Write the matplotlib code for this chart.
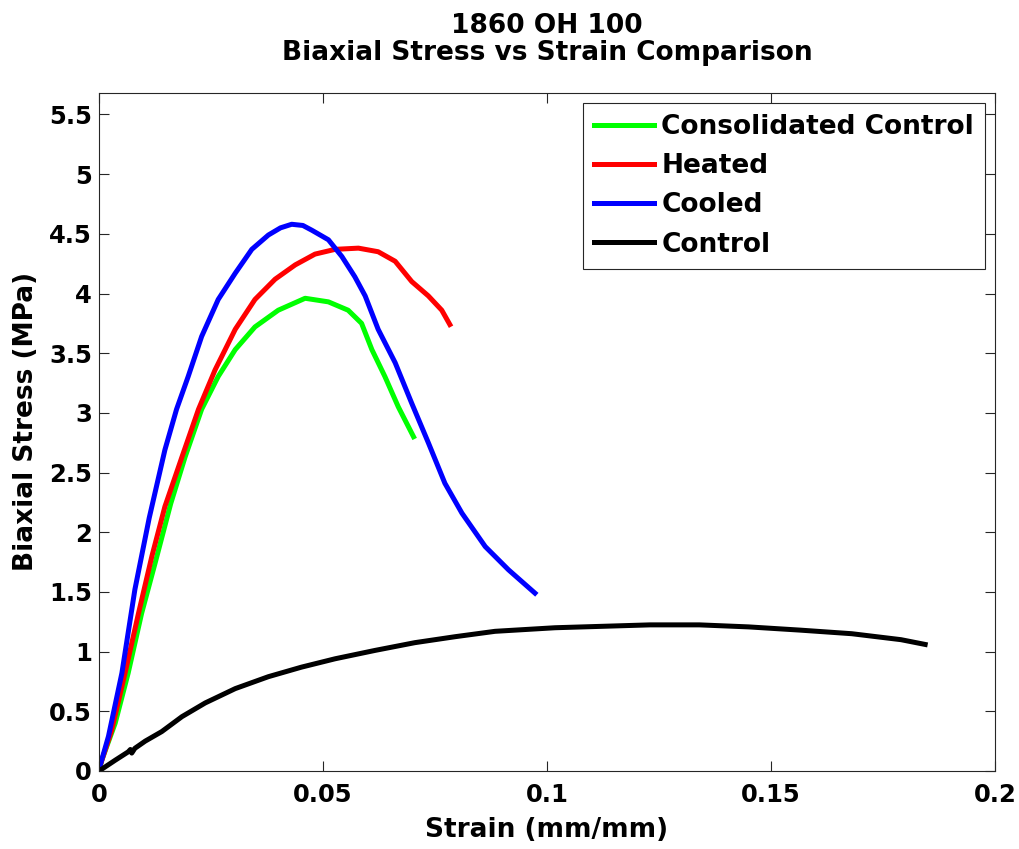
import matplotlib
matplotlib.use("Agg")  # Non-GUI backend
import matplotlib.pyplot as plt

# Consolidated Control
cons_strain = [0, 0.0006, 0.0036, 0.0065, 0.0095, 0.0125, 0.0160, 0.0192, 0.0229,
               0.0266, 0.0304, 0.0348, 0.0400, 0.0460, 0.0512, 0.0556, 0.0586,
               0.0609, 0.0638, 0.0668, 0.0702]
cons_stress = [0, 0.09, 0.40, 0.82, 1.32, 1.74, 2.24, 2.63, 3.03,
               3.305, 3.53, 3.72, 3.86, 3.96, 3.93, 3.86, 3.75,
               3.53, 3.305, 3.05, 2.80]

# Heated
heat_strain = [0, 0.0002, 0.0028, 0.0058, 0.0088, 0.0118, 0.0147, 0.0185, 0.0222,
               0.0259, 0.0304, 0.0348, 0.0393, 0.0438, 0.0482, 0.0527, 0.0579,
               0.0623, 0.0661, 0.0698, 0.0735, 0.0765, 0.0783]
heat_stress = [0, 0.04, 0.34, 0.82, 1.32, 1.80, 2.215, 2.63, 3.03,
               3.36, 3.70, 3.95, 4.12, 4.24, 4.33, 4.37, 4.38,
               4.35, 4.27, 4.10, 3.98, 3.86, 3.74]

# Cooled
cool_strain = [0, 0.0002, 0.0021, 0.0051, 0.0080, 0.0112, 0.0147, 0.0173, 0.0199,
               0.0229, 0.0266, 0.0304, 0.0341, 0.0378, 0.0405, 0.0430, 0.0455, 0.0475,
               0.0512, 0.0542, 0.0571, 0.0594, 0.0623, 0.0661, 0.0698, 0.0735, 0.0772,
               0.0810, 0.0862, 0.0914, 0.0973]
cool_stress = [0, 0.04, 0.29, 0.82, 1.52, 2.12, 2.69, 3.03, 3.305,
               3.64, 3.95, 4.17, 4.37, 4.49, 4.55, 4.58, 4.57, 4.53,
               4.45, 4.31, 4.14, 3.98, 3.70, 3.42, 3.08, 2.75, 2.41,
               2.16, 1.88, 1.685, 1.49]

# Control
ctrl_strain = [0, 0.0036, 0.0065, 0.0070, 0.0073, 0.0080, 0.0103, 0.0140, 0.0185,
               0.0237, 0.0304, 0.0378, 0.0452, 0.0527, 0.0616, 0.0705, 0.0795,
               0.0884, 0.1018, 0.1230, 0.1340, 0.1450, 0.1565, 0.1680, 0.1790,
               0.1844]
ctrl_stress = [0, 0.09, 0.16, 0.18, 0.15, 0.19, 0.25, 0.33, 0.455,
               0.57, 0.69, 0.79, 0.87, 0.94, 1.01, 1.075, 1.125,
               1.17, 1.20, 1.224, 1.224, 1.207, 1.18, 1.15, 1.10,
               1.06]

plt.rcParams['font.family'] = ['DejaVu Sans']
plt.rcParams['font.weight'] = 'bold'

fig = plt.figure(figsize=(10.19, 8.49), dpi=100)
ax = fig.add_axes([0.0972, 0.0919, 0.8793, 0.7986])

lw = 3.6
ax.plot(cons_strain, cons_stress, color='#00ff00', lw=lw, label='Consolidated Control')
ax.plot(heat_strain, heat_stress, color='#ff0000', lw=lw, label='Heated')
ax.plot(cool_strain, cool_stress, color='#0000ff', lw=lw, label='Cooled')
ax.plot(ctrl_strain, ctrl_stress, color='#000000', lw=lw, label='Control')

ax.set_xlim(0, 0.2)
ax.set_ylim(0, 5.68)
ax.set_xticks([0, 0.05, 0.1, 0.15, 0.2])
ax.set_xticklabels(['0', '0.05', '0.1', '0.15', '0.2'])
ax.set_yticks([0, 0.5, 1, 1.5, 2, 2.5, 3, 3.5, 4, 4.5, 5, 5.5])
ax.set_yticklabels(['0', '0.5', '1', '1.5', '2', '2.5', '3', '3.5', '4', '4.5', '5', '5.5'])
ax.tick_params(direction='in', length=7, width=0.8, top=True, right=True,
               labelsize=17.5, color='#262626')
ax.tick_params(axis='x', pad=9)
ax.tick_params(axis='y', pad=5)
for s in ax.spines.values():
    s.set_color('#262626')
    s.set_linewidth(0.8)

ax.set_title('1860 OH 100\nBiaxial Stress vs Strain Comparison',
             fontsize=19, fontweight='bold', pad=24, linespacing=1.05)
ax.set_xlabel('Strain (mm/mm)', fontsize=19, fontweight='bold', labelpad=7)
ax.set_ylabel('Biaxial Stress (MPa)', fontsize=19, fontweight='bold', labelpad=8)
ax.yaxis.set_label_coords(-0.067, 0.516)

leg = ax.legend(loc='upper right', fontsize=19, fancybox=False, framealpha=1,
                edgecolor='#262626', borderaxespad=0.38, handlelength=2.27,
                handletextpad=0.27, labelspacing=0.5, borderpad=0.42)
leg.get_frame().set_linewidth(0.8)

fig.savefig('out.png', dpi=100)
